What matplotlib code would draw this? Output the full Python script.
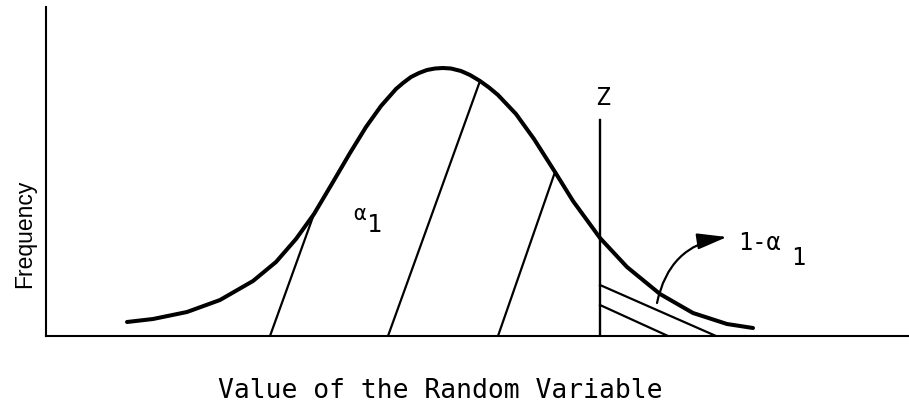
import matplotlib.pyplot as plt
from matplotlib.patches import FancyArrowPatch

# frequency curve traced as (value, frequency) pairs
curve_x = [81, 107, 141, 174, 207, 230, 250, 268, 287, 304, 320, 335, 350, 357, 365,
           373, 381, 389, 397, 405, 415, 424, 434, 443, 452, 470, 488, 509, 527, 554,
           581, 614, 647, 681, 707]
curve_y = [14, 17, 24, 36, 55, 74, 97, 122, 154, 183, 209, 230, 247, 253, 259,
           263, 266, 267.5, 268, 267.5, 265, 261, 255, 248.5, 241, 222, 197, 164, 135, 98,
           69, 42, 23, 12, 8]

# hatching under the alpha_1 region: foot on the axis, head on the curve
hatch_foot = [224, 342, 452]
hatch_head = [7, 22, 27]   # index into curve

# cut-off value Z
z_value = 554
z_top = 216

# hatching of the upper tail (1 - alpha_1)
tail_start_y = [51, 31]
tail_end_x = [670, 622]

arrow_from = (611, 33)
arrow_to = (681, 99)

fig = plt.figure(figsize=(9.09, 4.04), dpi=100)
ax = fig.add_axes([46 / 909, 68 / 404, 863 / 909, 329 / 404])
ax.set_xlim(0, 863)
ax.set_ylim(0, 329)
ax.set_xticks([])
ax.set_yticks([])
for s in ['top', 'right']:
    ax.spines[s].set_visible(False)
for s in ['left', 'bottom']:
    ax.spines[s].set_linewidth(1.5)
    ax.spines[s].set_color('black')

ax.plot(curve_x, curve_y, color='black', lw=2.9, solid_capstyle='round',
        solid_joinstyle='round', clip_on=False)

for foot, i in zip(hatch_foot, hatch_head):
    ax.plot([foot, curve_x[i]], [0, curve_y[i]], color='black', lw=1.6)

ax.plot([z_value, z_value], [0, z_top], color='black', lw=1.7)
for y0, x1 in zip(tail_start_y, tail_end_x):
    ax.plot([z_value, x1], [y0, 0], color='black', lw=1.6)

arr = FancyArrowPatch(arrow_from, arrow_to, connectionstyle='arc3,rad=-0.35',
                      arrowstyle='-|>,head_length=1.3,head_width=0.35',
                      mutation_scale=14, color='black', lw=1.6,
                      shrinkA=0, shrinkB=0)
ax.add_patch(arr)

mono = 'DejaVu Sans Mono'
ax.text(z_value + 3, 231, 'Z', fontsize=18, family=mono, ha='center', va='baseline')
ax.text(314, 122, '\u03b1', fontsize=15, family=mono, ha='center', va='center')
ax.text(328, 111, '1', fontsize=18, family=mono, ha='center', va='center')
ax.text(692, 86, '1-\u03b1', fontsize=17, family=mono, ha='left', va='baseline')
ax.text(752, 78, '1', fontsize=17, family=mono, ha='center', va='center')

ax.set_xlabel('Value of the Random Variable', fontsize=19, family=mono,
              va='baseline', ha='center')
ax.xaxis.set_label_coords((440 - 46) / 863, -62 / 329)
ax.set_ylabel('Frequency', fontsize=16.5,
              family=['Liberation Sans', 'DejaVu Sans'],
              va='center', ha='center')
ax.yaxis.set_label_coords(-21 / 863, 102 / 329)

fig.savefig('out.png', dpi=100)
